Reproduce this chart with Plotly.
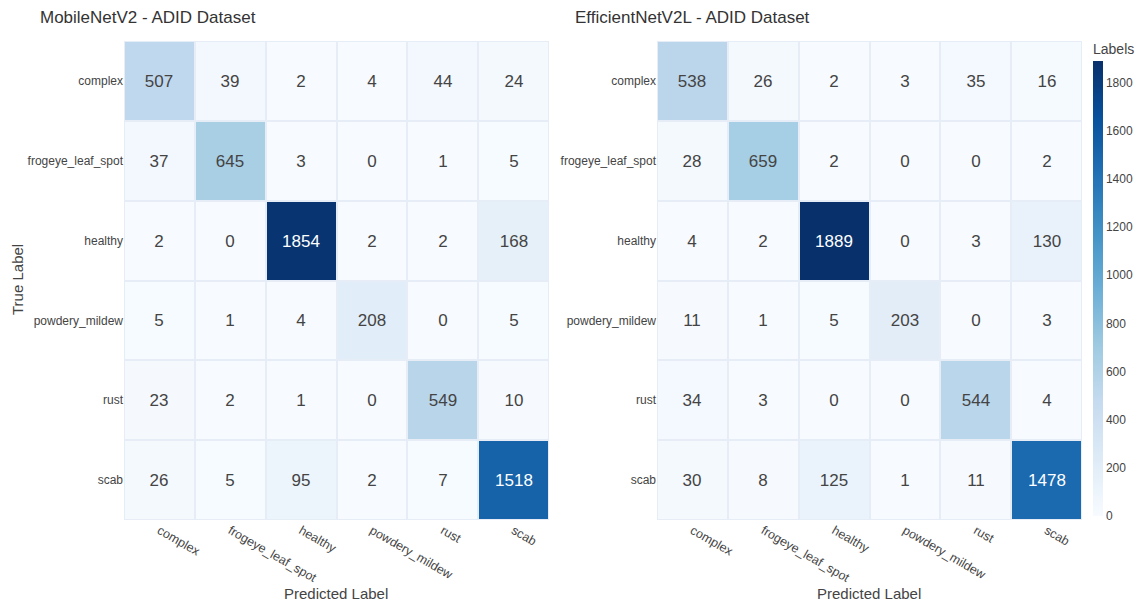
import plotly.graph_objects as go
from plotly.subplots import make_subplots

# Class names (rows = true label, columns = predicted label)
classes = ["complex", "frogeye_leaf_spot", "healthy", "powdery_mildew", "rust", "scab"]

# Confusion matrix counts
mobilenet_cm = [
    [507, 39, 2, 4, 44, 24],
    [37, 645, 3, 0, 1, 5],
    [2, 0, 1854, 2, 2, 168],
    [5, 1, 4, 208, 0, 5],
    [23, 2, 1, 0, 549, 10],
    [26, 5, 95, 2, 7, 1518],
]
efficientnet_cm = [
    [538, 26, 2, 3, 35, 16],
    [28, 659, 2, 0, 0, 2],
    [4, 2, 1889, 0, 3, 130],
    [11, 1, 5, 203, 0, 3],
    [34, 3, 0, 0, 544, 4],
    [30, 8, 125, 1, 11, 1478],
]
panel_titles = ["MobileNetV2 - ADID Dataset", "EfficientNetV2L - ADID Dataset"]
colorbar_ticks = [0, 200, 400, 600, 800, 1000, 1200, 1400, 1600, 1800]

W, H = 1145, 602
FONT = "Liberation Sans, Arial, sans-serif"

fig = make_subplots(rows=1, cols=2)

for i, cm in enumerate([mobilenet_cm, efficientnet_cm]):
    fig.add_trace(
        go.Heatmap(
            z=cm, x=classes, y=classes,
            coloraxis="coloraxis",
            xgap=2, ygap=2,
            texttemplate="%{z}",
            textfont=dict(size=17, family=FONT),
            hovertemplate="True: %{y}<br>Predicted: %{x}<br>Count: %{z}<extra></extra>",
        ),
        row=1, col=i + 1,
    )

zmax = max(max(r) for r in mobilenet_cm + efficientnet_cm)

def px_x(p):
    return p / W

def px_y(p):
    return 1 - p / H

y_dom = [px_y(520), px_y(41)]
fig.update_layout(
    width=W, height=H,
    margin=dict(l=0, r=0, t=0, b=0),
    paper_bgcolor="white",
    plot_bgcolor="#e6edf6",
    font=dict(family=FONT, color="#444", size=12),
    coloraxis=dict(
        colorscale="Blues", cmin=0, cmax=zmax,
        colorbar=dict(
            title=dict(text="Labels", side="top", font=dict(size=14)),
            thickness=10, outlinewidth=0,
            x=px_x(1093), xanchor="left", xpad=0,
            y=px_y(40), yanchor="top", ypad=0,
            len=(516 - 40) / H, lenmode="fraction",
            tickvals=colorbar_ticks,
            tickfont=dict(size=12),
            ticks="",
        ),
    ),
    xaxis=dict(domain=[px_x(124), px_x(549)], tickangle=30, automargin=False,
               showgrid=False, zeroline=False, ticks="", tickfont=dict(size=12.5)),
    xaxis2=dict(domain=[px_x(657), px_x(1082)], tickangle=30, automargin=False,
                showgrid=False, zeroline=False, ticks="", tickfont=dict(size=12.5)),
    yaxis=dict(domain=y_dom, autorange="reversed", automargin=False,
               showgrid=False, zeroline=False, ticks=""),
    yaxis2=dict(domain=y_dom, autorange="reversed", automargin=False,
                showgrid=False, zeroline=False, ticks=""),
)

annotations = [
    dict(text=panel_titles[0], x=px_x(38), y=px_y(18), xanchor="left", yanchor="middle",
         font=dict(size=17, color="#333")),
    dict(text=panel_titles[1], x=px_x(573), y=px_y(18), xanchor="left", yanchor="middle",
         font=dict(size=17, color="#333")),
    dict(text="Predicted Label", x=px_x(336), y=px_y(593), xanchor="center", yanchor="middle",
         font=dict(size=15, color="#444")),
    dict(text="Predicted Label", x=px_x(869), y=px_y(593), xanchor="center", yanchor="middle",
         font=dict(size=15, color="#444")),
    dict(text="True Label", x=px_x(18), y=px_y(280), xanchor="center", yanchor="middle",
         textangle=-90, font=dict(size=15, color="#444")),
]
for a in annotations:
    a.update(xref="paper", yref="paper", showarrow=False)
fig.update_layout(annotations=annotations)

fig.write_html("out.html")
